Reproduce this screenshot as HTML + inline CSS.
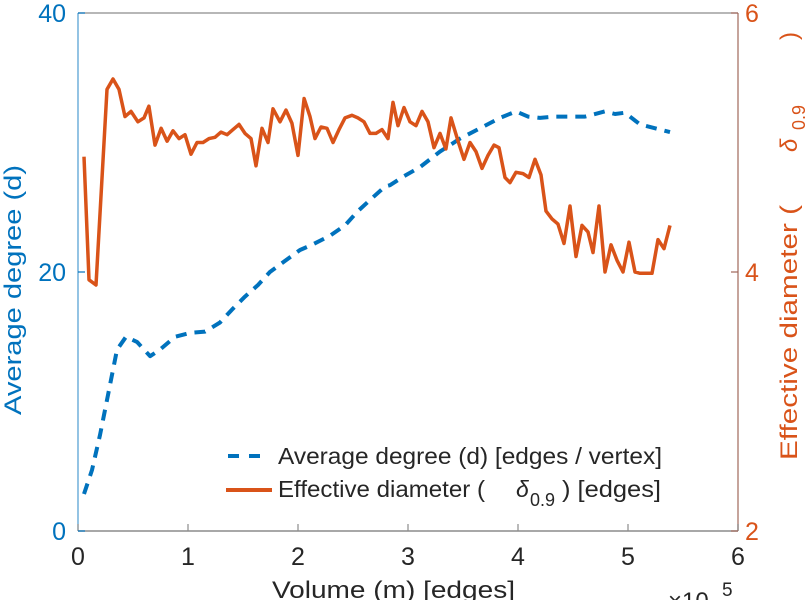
<!DOCTYPE html>
<html><head><meta charset="utf-8"><style>
html,body{margin:0;padding:0;background:#fff;}
svg{display:block;font-family:"Liberation Sans",sans-serif;}
</style></head><body>
<svg id="chart" width="812" height="600" viewBox="0 0 812 600" xmlns="http://www.w3.org/2000/svg">
<g id="axes"></g>
<g id="series"></g>
<g id="legend">
  <line x1="228" y1="456" x2="270" y2="456" stroke="#0072BD" stroke-width="4" stroke-dasharray="11,10"/>
  <text x="278" y="464" font-size="23" textLength="384" lengthAdjust="spacingAndGlyphs" fill="#262626">Average degree (d) [edges / vertex]</text>
  <line x1="226" y1="490" x2="272" y2="490" stroke="#D95319" stroke-width="4"/>
  <text x="278" y="497" font-size="23" textLength="207" lengthAdjust="spacingAndGlyphs" fill="#262626">Effective diameter (</text>
  <text x="516" y="497" font-size="23" font-style="italic" fill="#262626">δ</text>
  <text x="530" y="506" font-size="18" fill="#262626">0.9</text>
  <text x="562" y="497" font-size="23" textLength="99" lengthAdjust="spacingAndGlyphs" fill="#262626">) [edges]</text>
</g>
</svg>
<script>
const xTicks=[0,1,2,3,4,5,6];
const leftTicks=[0,20,40];
const rightTicks=[2,4,6];
const degX=[0.055,0.127,0.2,0.273,0.355,0.436,0.536,0.655,0.745,0.882,1.018,1.155,1.291,1.4,1.518,1.636,1.745,1.873,2.018,2.127,2.291,2.427,2.545,2.673,2.791,2.836,2.964,3.109,3.291,3.473,3.655,3.836,3.982,4.091,4.2,4.336,4.473,4.609,4.791,4.882,4.973,5.109,5.382];
const degY=[2.86,4.71,7.41,10.5,14.0,15.0,14.6,13.5,14.0,15.0,15.3,15.4,16.1,17.1,18.1,19.0,20.0,20.8,21.7,22.1,22.8,23.6,24.7,25.7,26.6,26.7,27.4,28.1,29.3,30.3,31.1,31.9,32.4,32.0,31.9,32.0,32.0,32.0,32.4,32.2,32.3,31.4,30.8];
const diamX=[0.055,0.10,0.164,0.264,0.318,0.373,0.427,0.482,0.545,0.60,0.645,0.70,0.755,0.81,0.864,0.918,0.973,1.027,1.082,1.136,1.191,1.245,1.30,1.355,1.409,1.464,1.518,1.573,1.618,1.673,1.727,1.773,1.836,1.891,1.945,2.0,2.055,2.109,2.155,2.209,2.264,2.318,2.373,2.427,2.491,2.545,2.60,2.655,2.709,2.764,2.818,2.864,2.909,2.964,3.018,3.073,3.127,3.182,3.236,3.291,3.345,3.391,3.455,3.509,3.564,3.618,3.673,3.727,3.782,3.827,3.882,3.927,3.982,4.045,4.10,4.155,4.209,4.255,4.309,4.364,4.418,4.473,4.527,4.582,4.636,4.682,4.736,4.791,4.845,4.90,4.955,5.009,5.064,5.109,5.164,5.218,5.273,5.327,5.382];
const diamY=[4.89,3.94,3.90,5.41,5.49,5.41,5.20,5.24,5.16,5.19,5.28,4.98,5.11,5.01,5.09,5.03,5.06,4.91,5.00,5.00,5.03,5.04,5.08,5.06,5.10,5.14,5.07,5.03,4.82,5.11,5.00,5.26,5.16,5.25,5.15,4.90,5.34,5.20,5.03,5.12,5.11,5.00,5.10,5.19,5.21,5.19,5.16,5.07,5.07,5.10,5.03,5.31,5.13,5.27,5.16,5.13,5.24,5.16,4.96,5.07,4.95,5.19,5.01,4.87,5.00,4.93,4.80,4.90,4.98,4.96,4.73,4.69,4.77,4.76,4.73,4.87,4.75,4.47,4.41,4.37,4.22,4.51,4.12,4.36,4.31,4.15,4.51,4.00,4.21,4.09,4.00,4.23,4.00,3.99,3.99,3.99,4.25,4.18,4.36];

const L=78,R=738,T=13,B=531;
const xS=v=>L+(v/6)*(R-L);
const yL=v=>B-(v/40)*(B-T);
const yR=v=>B-((v-2)/4)*(B-T);
const NS="http://www.w3.org/2000/svg";
function mk(tag,attrs,parent,text){const e=document.createElementNS(NS,tag);for(const k in attrs)e.setAttribute(k,attrs[k]);if(text!==undefined)e.textContent=text;parent.appendChild(e);return e;}
const ax=document.getElementById('axes');
let e;
e=mk('line',{x1:L,y1:B,x2:R,y2:B,stroke:'#8c8c8c','stroke-width':1.5},ax);


e=mk('line',{x1:L,y1:T,x2:R,y2:T,stroke:'#8c8c8c','stroke-width':1.2},ax);


e=mk('line',{x1:L,y1:T,x2:L,y2:B,stroke:'#0072BD','stroke-width':1.2,'stroke-opacity':0.7},ax);


e=mk('line',{x1:R,y1:T,x2:R,y2:B,stroke:'#a0665a','stroke-width':1.5,'stroke-opacity':0.8},ax);


xTicks.forEach(t=>{
  const x=xS(t);
  e=mk('line',{x1:x,y1:B,x2:x,y2:B-7,stroke:'#8c8c8c','stroke-width':1.2},ax);
  
  
  e=mk('text',{x:x,y:B+34,'font-size':25,'text-anchor':'middle',fill:'#262626'},ax,String(t));
  
  
});
leftTicks.forEach(t=>{
  const y=yL(t);
  e=mk('line',{x1:L,y1:y,x2:L+7,y2:y,stroke:'#0072BD','stroke-width':1.2},ax);
  
  
  e=mk('text',{x:L-12,y:y+9,'font-size':25,'text-anchor':'end',fill:'#0072BD'},ax,String(t));
  
  
});
rightTicks.forEach(t=>{
  const y=yR(t);
  e=mk('line',{x1:R,y1:y,x2:R-7,y2:y,stroke:'#a0665a','stroke-width':1.2},ax);
  
  
  e=mk('text',{x:R+7,y:y+9,'font-size':25,'text-anchor':'start',fill:'#D95319'},ax,String(t));
  
  
});
e=mk('text',{x:272,y:598,'font-size':24,textLength:243,lengthAdjust:'spacingAndGlyphs',fill:'#262626'},ax,'Volume (m) [edges]');


e=mk('text',{x:668,y:609,'font-size':24,fill:'#262626'},ax,'×10');


e=mk('text',{x:722,y:596,'font-size':19,fill:'#262626'},ax,'5');


e=mk('text',{x:0,y:0,'font-size':24,'text-anchor':'middle',textLength:250,lengthAdjust:'spacingAndGlyphs',fill:'#0072BD',transform:'translate(21,290) rotate(-90)'},ax,'Average degree (d)');


e=mk('text',{x:0,y:0,'font-size':24,textLength:255,lengthAdjust:'spacingAndGlyphs',fill:'#D95319',transform:'translate(797,460) rotate(-90)'},ax,'Effective diameter (');


e=mk('text',{x:0,y:0,'font-size':24,'font-style':'italic',fill:'#D95319',transform:'translate(797,152) rotate(-90)'},ax,'δ');


e=mk('text',{x:0,y:0,'font-size':18,fill:'#D95319',transform:'translate(805,130) rotate(-90)'},ax,'0.9');


e=mk('text',{x:0,y:0,'font-size':24,fill:'#D95319',transform:'translate(797,40) rotate(-90)'},ax,')');



const sg=document.getElementById('series');
let d1=degX.map((x,i)=>(i?'L':'M')+xS(x).toFixed(1)+','+yL(degY[i]).toFixed(1)).join(' ');
e=mk('path',{d:d1,fill:'none',stroke:'#0072BD','stroke-width':4,'stroke-dasharray':'11,8','stroke-linejoin':'round'},sg);


let d2=diamX.map((x,i)=>(i?'L':'M')+xS(x).toFixed(1)+','+yR(diamY[i]).toFixed(1)).join(' ');
e=mk('path',{d:d2,fill:'none',stroke:'#D95319','stroke-width':3.5,'stroke-linejoin':'round'},sg);


</script>
</body></html>
